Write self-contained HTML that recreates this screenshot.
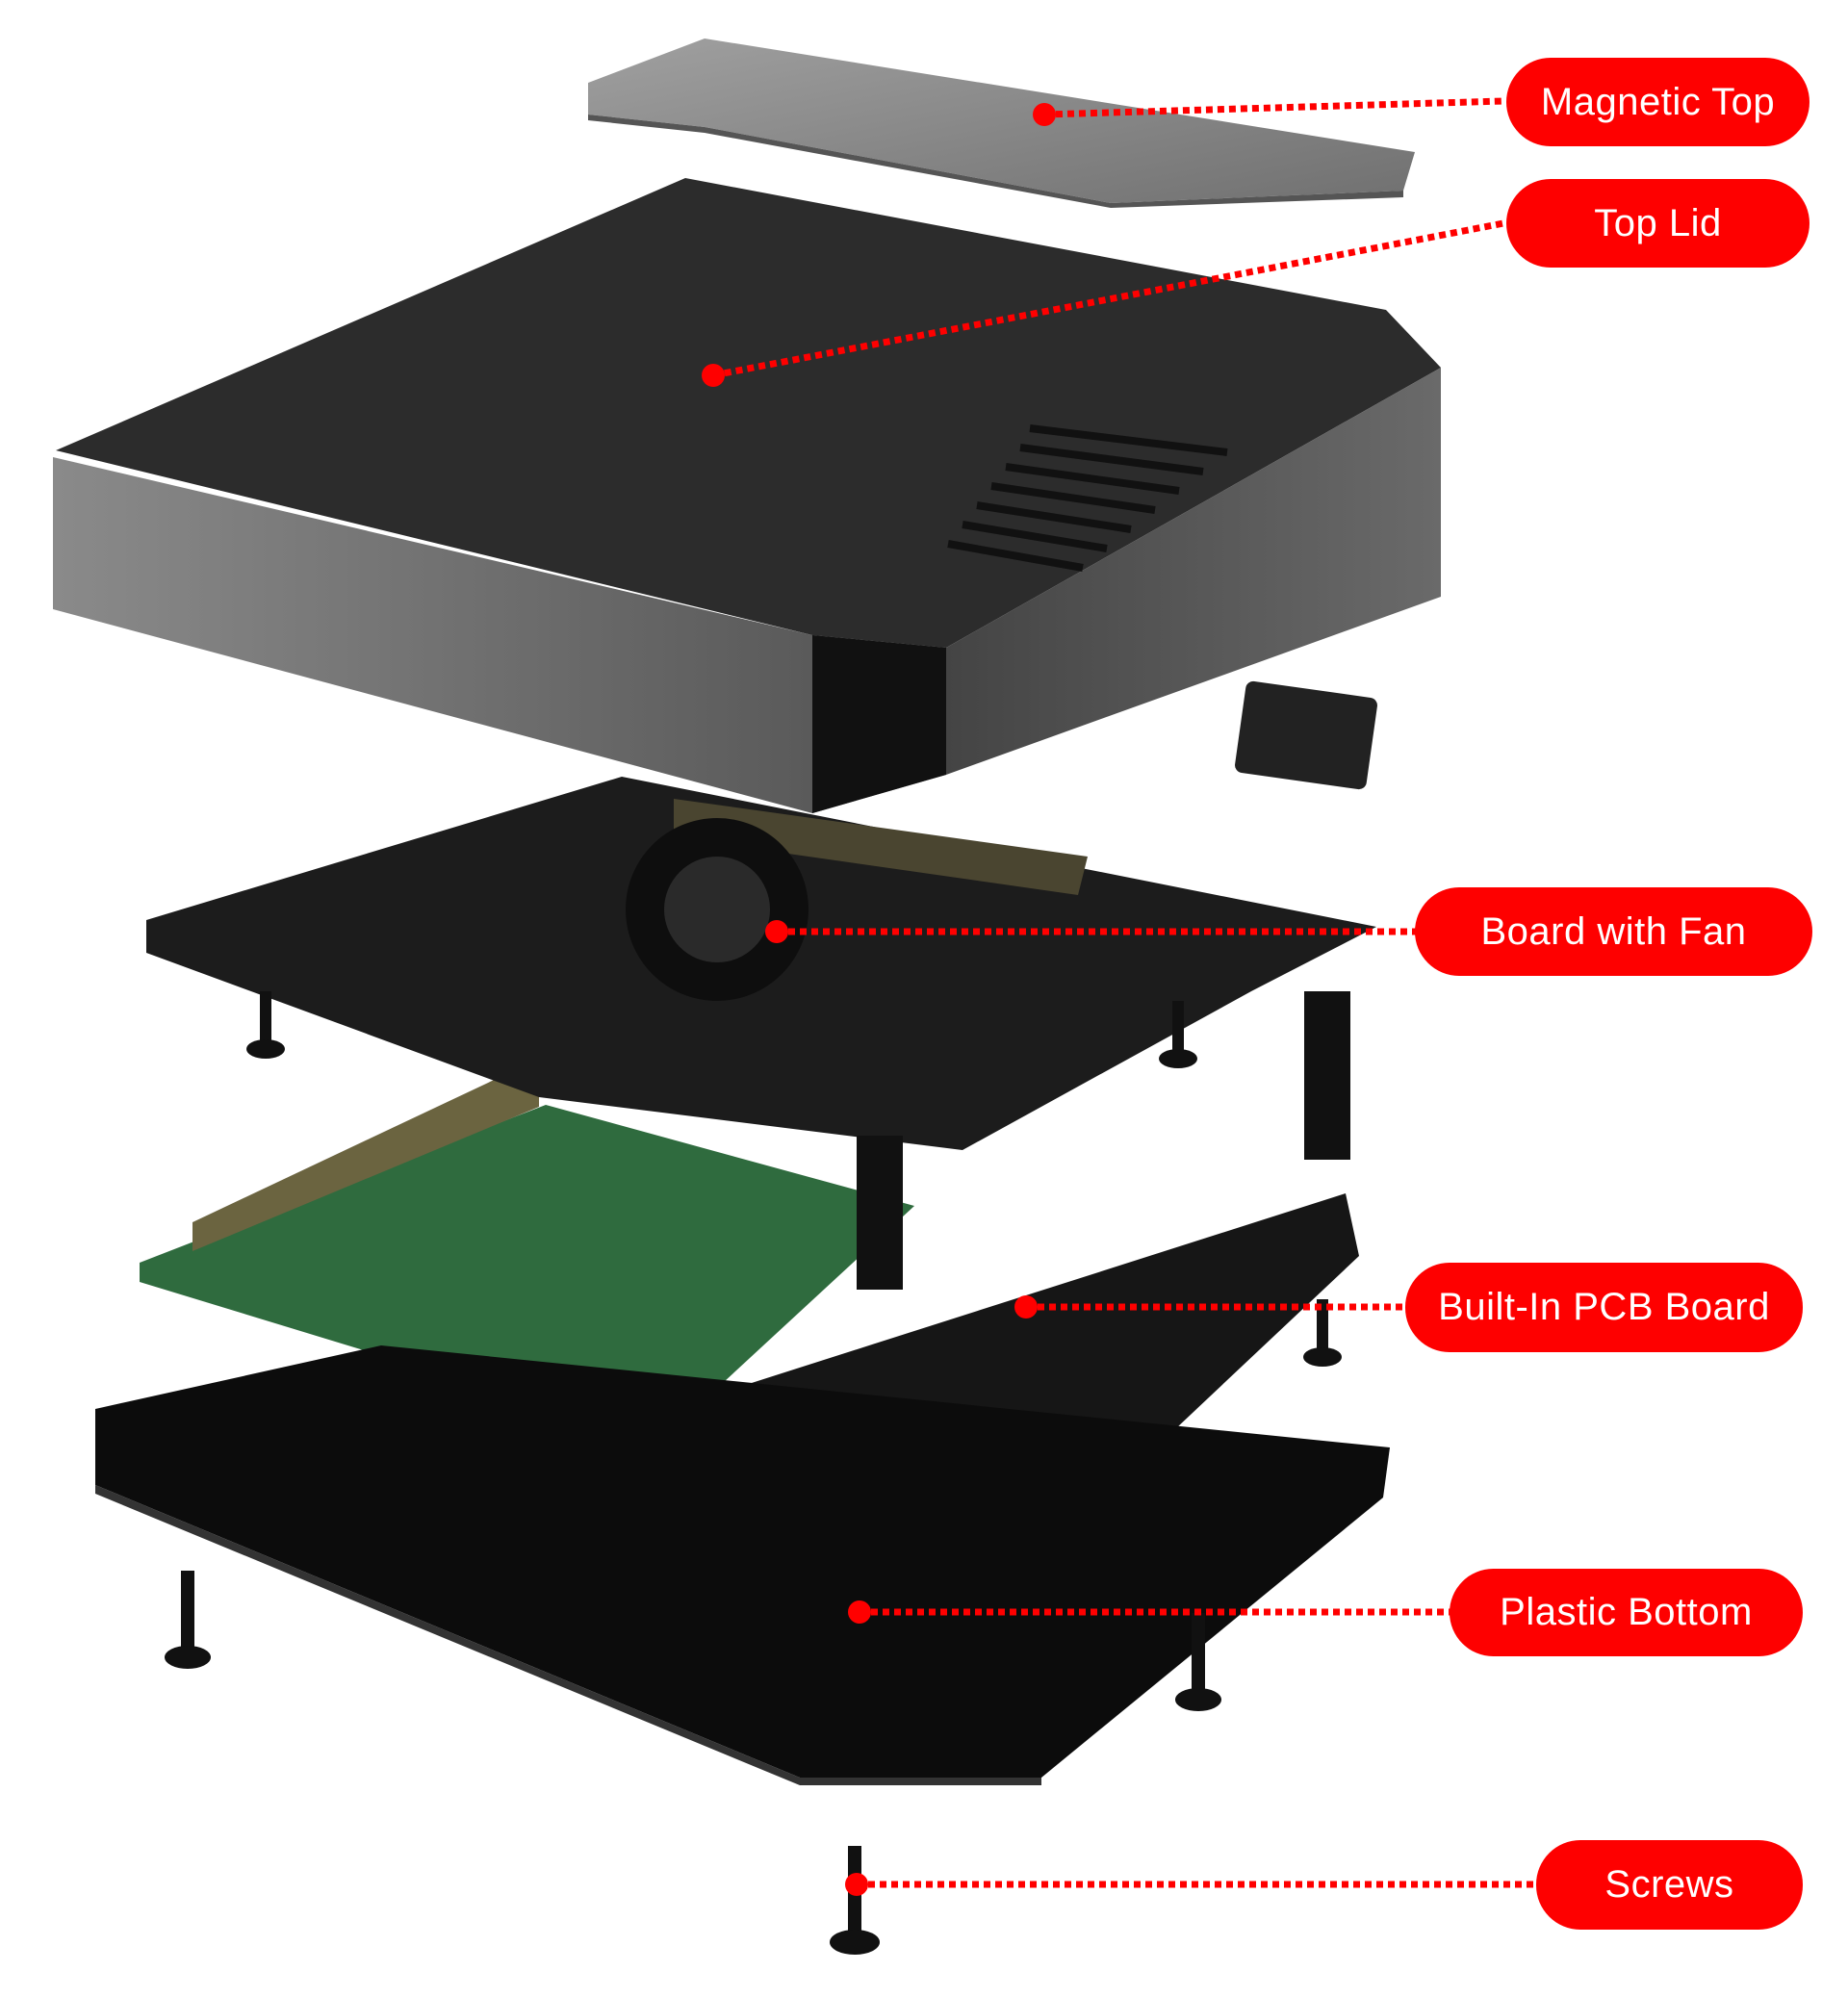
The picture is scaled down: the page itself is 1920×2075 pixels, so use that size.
<!DOCTYPE html>
<html><head><meta charset="utf-8"><style>
html,body{margin:0;padding:0;background:#fff;}
body{width:1920px;height:2075px;position:relative;overflow:hidden;font-family:"Liberation Sans",sans-serif;}
.pill{position:absolute;background:#fe0000;color:#fff;border-radius:46px;display:flex;align-items:center;justify-content:center;font-size:40px;letter-spacing:0.5px;}
svg{position:absolute;left:0;top:0;}
</style></head><body>
<svg width="1920" height="2075" viewBox="0 0 1920 2075">
<defs>
<linearGradient id="mt" x1="0" y1="0" x2="1" y2="1"><stop offset="0" stop-color="#a0a0a0"/><stop offset="1" stop-color="#707070"/></linearGradient>
<linearGradient id="front" x1="0" y1="0" x2="1" y2="0"><stop offset="0" stop-color="#8a8a8a"/><stop offset="1" stop-color="#5a5a5a"/></linearGradient>
<linearGradient id="side" x1="0" y1="0" x2="1" y2="0"><stop offset="0" stop-color="#3a3a3a"/><stop offset="1" stop-color="#6a6a6a"/></linearGradient>
</defs>
<!-- magnetic top -->
<polygon points="611,86 732,40 1470,158 1458,198 1154,211 732,132 611,119" fill="url(#mt)"/>
<polygon points="611,119 732,132 1154,211 1458,198 1458,205 1154,216 732,138 611,125" fill="#555"/>
<!-- top lid -->
<polygon points="58,468 712,185 1440,322 1497,382 983,673 844,660" fill="#2c2c2c"/>
<polygon points="55,475 844,660 844,845 55,633" fill="url(#front)"/>
<polygon points="844,660 983,673 1497,382 1497,620 983,805 844,845" fill="url(#side)"/>
<polygon points="844,660 983,673 983,805 844,845" fill="#111"/>
<g stroke="#111" stroke-width="8">
<line x1="1070" y1="445" x2="1275" y2="470"/><line x1="1060" y1="465" x2="1250" y2="490"/><line x1="1045" y1="485" x2="1225" y2="510"/><line x1="1030" y1="505" x2="1200" y2="530"/><line x1="1015" y1="525" x2="1175" y2="550"/><line x1="1000" y1="545" x2="1150" y2="570"/><line x1="985" y1="565" x2="1125" y2="590"/>
</g>
<!-- small connector -->
<rect x="1288" y="716" width="138" height="96" rx="8" fill="#222" transform="rotate(8 1357 764)"/>
<!-- pi board green -->
<polygon points="145,1312 567,1148 950,1253 686,1497 145,1332" fill="#2f6b3e"/>
<!-- pins on pi -->
<polygon points="200,1270 560,1100 560,1150 200,1300" fill="#6b6440"/>
<!-- built-in pcb -->
<polygon points="740,1450 1398,1240 1412,1305 1187,1517 818,1517" fill="#161616"/>
<!-- board with fan -->
<polygon points="152,956 646,807 1430,963 1300,1030 1000,1195 560,1140 152,990" fill="#1c1c1c"/>
<polygon points="700,830 1130,890 1120,930 700,870" fill="#4a4530"/>
<circle cx="745" cy="945" r="95" fill="#0e0e0e"/>
<circle cx="745" cy="945" r="55" fill="#2a2a2a"/>
<!-- plastic bottom -->
<polygon points="99,1464 396,1398 1444,1504 1437,1556 1082,1847 831,1847 99,1543" fill="#0c0c0c"/>
<polygon points="99,1543 831,1847 1082,1847 1082,1855 831,1855 99,1552" fill="#333"/>
<!-- screws -->
<g fill="#111">
<rect x="188" y="1632" width="14" height="90"/><ellipse cx="195" cy="1722" rx="24" ry="12"/>
<rect x="1238" y="1676" width="14" height="90"/><ellipse cx="1245" cy="1766" rx="24" ry="12"/>
<rect x="881" y="1918" width="14" height="100"/><ellipse cx="888" cy="2018" rx="26" ry="13"/>
<rect x="1368" y="1350" width="12" height="60"/><ellipse cx="1374" cy="1410" rx="20" ry="10"/>
<rect x="1218" y="1040" width="12" height="60"/><ellipse cx="1224" cy="1100" rx="20" ry="10"/>
<rect x="270" y="1030" width="12" height="60"/><ellipse cx="276" cy="1090" rx="20" ry="10"/>
<rect x="1355" y="1030" width="48" height="175"/>
<rect x="890" y="1180" width="48" height="160"/>
</g>
<!-- connectors -->
<g stroke="#f00" stroke-width="7" stroke-dasharray="7,5" fill="none">
<line x1="1085" y1="119" x2="1562" y2="105"/>
<line x1="741" y1="390" x2="1562" y2="232"/>
<line x1="807" y1="968" x2="1472" y2="968"/>
<line x1="1066" y1="1358" x2="1462" y2="1358"/>
<line x1="893" y1="1675" x2="1508" y2="1675"/>
<line x1="890" y1="1958" x2="1598" y2="1958"/>
</g>
<g fill="#f00">
<circle cx="1085" cy="119" r="12"/><circle cx="741" cy="390" r="12"/><circle cx="807" cy="968" r="12"/>
<circle cx="1066" cy="1358" r="12"/><circle cx="893" cy="1675" r="12"/><circle cx="890" cy="1958" r="12"/>
</g>
</svg>
<div class="pill" style="left:1565px;top:60px;width:315px;height:92px;">Magnetic Top</div>
<div class="pill" style="left:1565px;top:186px;width:315px;height:92px;">Top Lid</div>
<div class="pill" style="left:1470px;top:922px;width:413px;height:92px;">Board with Fan</div>
<div class="pill" style="left:1460px;top:1312px;width:413px;height:93px;">Built-In PCB Board</div>
<div class="pill" style="left:1506px;top:1630px;width:367px;height:91px;">Plastic Bottom</div>
<div class="pill" style="left:1596px;top:1912px;width:277px;height:93px;">Screws</div>
</body></html>
